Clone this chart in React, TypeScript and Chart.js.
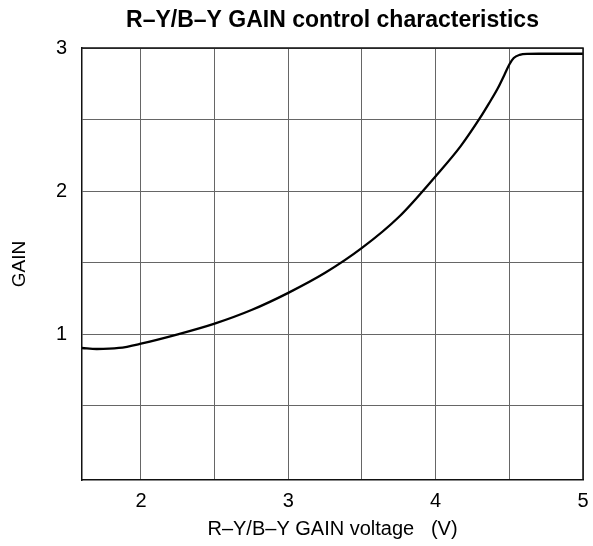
import React, { useEffect, useRef } from "react";
import { Chart, registerables } from "chart.js";

Chart.register(...registerables);

const titleText = "R–Y/B–Y GAIN control characteristics";
const xTitle = "R–Y/B–Y GAIN voltage   (V)";
const yTitle = "GAIN";

const voltage = [1.6, 1.7, 1.85, 2.0, 2.25, 2.5, 2.75, 3.0, 3.25, 3.5, 3.75, 4.0, 4.17, 4.3, 4.36, 4.42, 4.47, 4.5, 4.53, 4.57, 4.62, 4.7, 5.0];
const gain = [0.905, 0.898, 0.905, 0.935, 1.0, 1.075, 1.17, 1.29, 1.43, 1.604, 1.82, 2.105, 2.315, 2.51, 2.61, 2.715, 2.82, 2.885, 2.93, 2.952, 2.959, 2.96, 2.96];

const xTicks = [2, 2.5, 3, 3.5, 4, 4.5, 5];
const yTicks = [0.5, 1, 1.5, 2, 2.5, 3];
const xLabeled = [2, 3, 4, 5];
const yLabeled = [1, 2, 3];

const FONT = "'Liberation Sans', Arial, sans-serif";

const textPlugin = {
  id: "textPlugin",
  afterDraw(chart: any) {
    const { ctx, chartArea } = chart;
    const cx = (chartArea.left + chartArea.right) / 2;
    const cy = (chartArea.top + chartArea.bottom) / 2;
    ctx.save();
    ctx.fillStyle = "#000";
    ctx.textAlign = "center";
    ctx.textBaseline = "alphabetic";
    ctx.font = `bold 23px ${FONT}`;
    ctx.fillText(titleText, cx, 27);
    ctx.font = `20px ${FONT}`;
    ctx.fillText(xTitle, cx, 535);
    ctx.translate(25, cy);
    ctx.rotate(-Math.PI / 2);
    ctx.font = `19px ${FONT}`;
    ctx.fillText(yTitle, 0, 0);
    ctx.restore();
  },
};

export default function App() {
  const ref = useRef<HTMLCanvasElement>(null);
  useEffect(() => {
    if (!ref.current) return;
    const chart = new Chart(ref.current, {
      type: "scatter",
      data: {
        datasets: [
          {
            data: voltage.map((v, i) => ({ x: v, y: gain[i] })),
            showLine: true,
            borderColor: "#000",
            borderWidth: 2.3,
            pointRadius: 0,
            cubicInterpolationMode: "monotone",
            fill: false,
          },
        ],
      },
      options: {
        responsive: false,
        animation: false,
        layout: { padding: { top: 48, right: 10, left: 0, bottom: 0 } },
        plugins: { legend: { display: false }, tooltip: { enabled: false }, title: { display: false } },
        scales: {
          x: {
            type: "linear",
            min: 1.6,
            max: 5,
            afterBuildTicks: (s: any) => {
              s.ticks = xTicks.map((v) => ({ value: v }));
            },
            afterFit: (s: any) => {
              s.height = 546 - 480;
              s.paddingLeft = 0;
              s.paddingRight = 0;
            },
            grid: { color: "#666", lineWidth: 1, drawTicks: false },
            border: { color: "#111", width: 1.5 },
            ticks: {
              padding: 9,
              color: "#000",
              font: { family: FONT, size: 20 },
              maxRotation: 0,
              autoSkip: false,
              callback: (v: any) => (xLabeled.includes(Number(v)) ? String(v) : ""),
            },
          },
          y: {
            type: "linear",
            min: -0.017,
            max: 3,
            afterBuildTicks: (s: any) => {
              s.ticks = yTicks.map((v) => ({ value: v }));
            },
            afterFit: (s: any) => {
              s.width = 82;
              s.paddingTop = 0;
              s.paddingBottom = 0;
            },
            grid: { color: "#666", lineWidth: 1, drawTicks: false },
            border: { color: "#111", width: 1.5 },
            ticks: {
              padding: 15,
              color: "#000",
              font: { family: FONT, size: 20 },
              autoSkip: false,
              callback: (v: any) => (yLabeled.includes(Number(v)) ? String(v) : ""),
            },
          },
        },
      },
      plugins: [
        textPlugin,
        {
          id: "rightTopBorder",
          afterDraw(chart: any) {
            const { ctx, chartArea } = chart;
            ctx.save();
            ctx.strokeStyle = "#111";
            ctx.lineWidth = 1.5;
            ctx.beginPath();
            ctx.moveTo(chartArea.left, chartArea.top);
            ctx.lineTo(chartArea.right, chartArea.top);
            ctx.lineTo(chartArea.right, chartArea.bottom);
            ctx.stroke();
            ctx.restore();
          },
        },
      ],
    } as any);
    return () => chart.destroy();
  }, []);
  return (
    <div style={{ position: "fixed", left: 0, top: 0, width: 593, height: 546, background: "#fff" }}>
      <canvas ref={ref} width={593} height={546} style={{ width: 593, height: 546 }} />
    </div>
  );
}
